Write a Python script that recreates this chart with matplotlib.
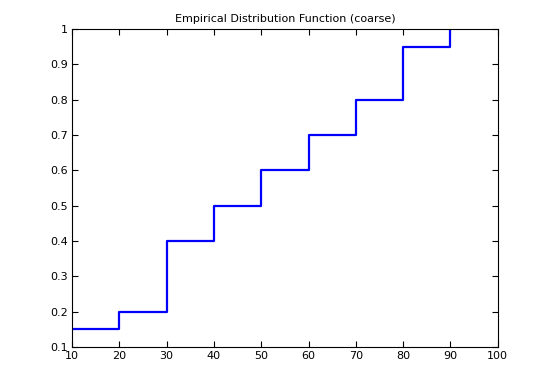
import matplotlib
matplotlib.use("Agg")
import matplotlib.pyplot as plt

x_edges = [10, 20, 30, 40, 50, 60, 70, 80, 90]
cdf_values = [0.15, 0.2, 0.4, 0.5, 0.6, 0.7, 0.8, 0.95, 1.0]
x_ticks = [10, 20, 30, 40, 50, 60, 70, 80, 90, 100]
y_ticks = [0.1, 0.2, 0.3, 0.4, 0.5, 0.6, 0.7, 0.8, 0.9, 1.0]
y_labels = ["0.1", "0.2", "0.3", "0.4", "0.5", "0.6", "0.7", "0.8", "0.9", "1"]

fig = plt.figure(figsize=(5.5, 3.9), dpi=100)
ax = fig.add_axes([0.131, 0.110, 0.774, 0.816])
ax.step(x_edges, cdf_values, where="post", color="#0000ff", linewidth=1.6)
ax.set_xlim(10, 100)
ax.set_ylim(0.1, 1.0)
ax.set_xticks(x_ticks)
ax.set_xticklabels([str(t) for t in x_ticks])
ax.set_yticks(y_ticks)
ax.set_yticklabels(y_labels)
ax.tick_params(direction="in", top=True, right=True, length=4, labelsize=8, width=0.8, pad=3)
for s in ax.spines.values():
    s.set_linewidth(0.8)
ax.set_title("Empirical Distribution Function (coarse)", fontsize=8, pad=5)
fig.savefig("out.png", dpi=100)
